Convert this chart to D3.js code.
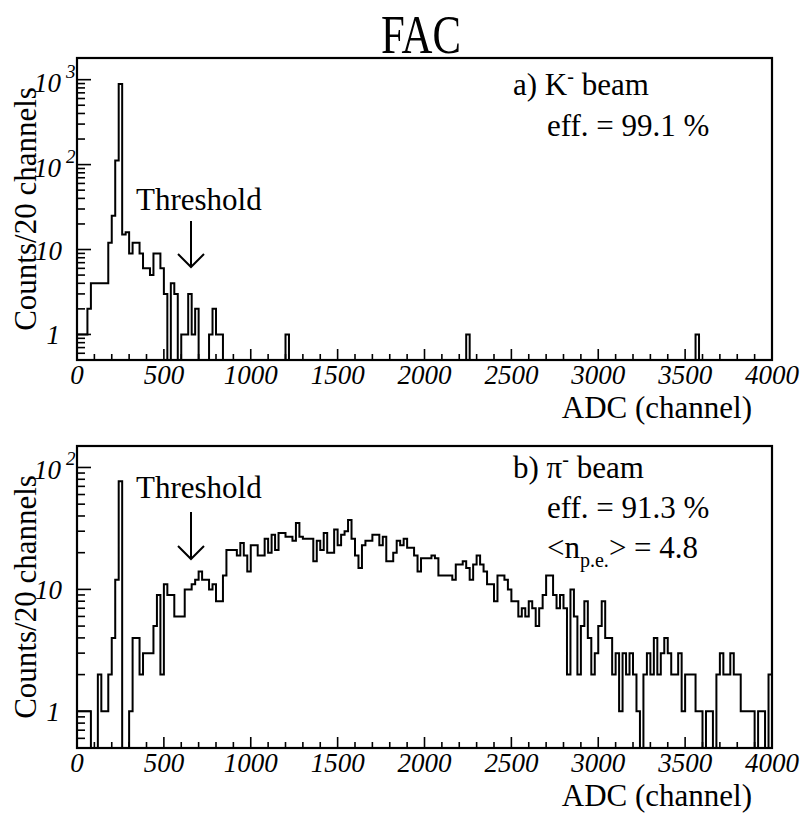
<!DOCTYPE html>
<html>
<head>
<meta charset="utf-8">
<script src="https://cdn.jsdelivr.net/npm/d3@7"></script>
<style>
  html, body { margin: 0; padding: 0; background: #fff; }
  svg { display: block; }
</style>
</head>
<body>
<svg id="chart" width="806" height="813" font-family="'Liberation Serif', Tinos, 'Times New Roman', Times, 'DejaVu Serif', serif"></svg>
<script>
// ADC spectra, 20-channel bins from 0 to 4000
const binWidth = 20;
const adcRange = [0, 4000];

// K- beam: only non-empty bins (lower bin edge, counts)
const kBinLow = [0, 20, 40, 60, 80, 100, 120, 140, 160, 180, 200, 220, 240, 260, 280, 300, 320, 340,
                 360, 380, 400, 420, 440, 460, 480, 500, 540, 560, 600, 620, 640, 660, 680,
                 760, 780, 800, 820, 1200, 2240, 3560];
const kCounts = [1, 1, 1, 2, 4, 4, 4, 4, 4, 12, 25, 112, 890, 15, 16, 9, 12, 12,
                 9, 6, 6, 5, 9, 9, 6, 3, 4, 3, 1, 1, 3, 1, 2,
                 1, 2, 1, 1, 1, 1, 1];

// pi- beam: counts for all 200 bins
const piCounts = [
  1, 1, 1, 1, 0, 0, 2, 1, 1, 2, 4, 12, 77, 0, 0, 1, 4, 4, 2, 3,
  3, 3, 5, 9, 2, 11, 9, 9, 6, 6, 6, 10, 10, 11, 12, 14, 12, 12, 10, 11,
  8, 8, 13, 21, 21, 21, 19, 24, 19, 14, 23, 23, 19, 19, 26, 20, 28, 21, 29, 29,
  27, 27, 25, 35, 27, 26, 26, 26, 17, 25, 21, 29, 20, 20, 31, 23, 28, 30, 37, 26,
  19, 15, 23, 25, 25, 28, 28, 23, 27, 17, 17, 20, 25, 23, 26, 22, 22, 19, 14, 18,
  18, 18, 19, 18, 13, 13, 13, 13, 12, 16, 16, 17, 15, 12, 16, 19, 16, 14, 11, 11,
  8, 13, 13, 12, 10, 8, 8, 6, 7, 6, 8, 7, 5, 7, 9, 13, 13, 9, 7, 9,
  7, 2, 10, 6, 2, 5, 8, 4, 2, 3, 5, 8, 4, 4, 2, 3, 1, 3, 2, 3,
  2, 1, 0, 2, 3, 2, 4, 2, 3, 4, 3, 2, 2, 3, 1, 2, 2, 2, 1, 1,
  0, 1, 1, 0, 2, 3, 2, 2, 3, 2, 2, 1, 1, 1, 1, 0, 1, 1, 0, 2
];

// tick values
const xMajorTicks = [0, 500, 1000, 1500, 2000, 2500, 3000, 3500, 4000];
const xTickLabels = ["0", "500", "1000", "1500", "2000", "2500", "3000", "3500", "4000"];

const nBins = (adcRange[1] - adcRange[0]) / binWidth;
const kFull = new Array(nBins).fill(0);
kBinLow.forEach((lo, i) => { kFull[lo / binWidth] = kCounts[i]; });

const svg = d3.select("#chart");
const left = 77, right = 772;

const x = d3.scaleLinear().domain(adcRange).range([left, right]);

svg.append("text")
  .attr("x", 421).attr("y", 53)
  .attr("text-anchor", "middle")
  .attr("font-size", 54)
  .attr("textLength", 80)
  .attr("lengthAdjust", "spacingAndGlyphs")
  .text("FAC");

const panels = [
  { top: 58, bottom: 360, yDomain: [0.5, 1800], counts: kFull, decades: [0, 1, 2, 3],
    arrowX: 191, thr: { x: 136, y: 210 }, arrowTop: 221, arrowTip: 267 },
  { top: 446, bottom: 748, yDomain: [0.5, 150], counts: piCounts, decades: [0, 1, 2],
    arrowX: 191, thr: { x: 136, y: 498 }, arrowTop: 512, arrowTip: 559 }
];

panels.forEach((p) => {
  const g = svg.append("g");
  const y = d3.scaleLog().domain(p.yDomain).range([p.bottom, p.top]);

  // histogram outline; empty bins drop to the frame bottom
  const pts = [[x(adcRange[0]), p.bottom]];
  p.counts.forEach((c, i) => {
    const yy = c > 0 ? y(c) : p.bottom;
    pts.push([x(i * binWidth), yy]);
    pts.push([x((i + 1) * binWidth), yy]);
  });
  pts.push([x(adcRange[1]), p.bottom]);
  g.append("path")
    .attr("d", d3.line()(pts))
    .attr("fill", "none")
    .attr("stroke", "#000")
    .attr("stroke-width", 2)
    .attr("stroke-linejoin", "miter");

  // frame
  g.append("rect")
    .attr("x", left).attr("y", p.top)
    .attr("width", right - left).attr("height", p.bottom - p.top)
    .attr("fill", "none").attr("stroke", "#000").attr("stroke-width", 2.2);

  // x ticks inside the frame
  const xMinor = d3.range(0, 4001, 100);
  g.selectAll(null).data(xMinor).enter().append("line")
    .attr("x1", d => x(d)).attr("x2", d => x(d))
    .attr("y1", p.bottom)
    .attr("y2", d => p.bottom - (d % 500 === 0 ? 11 : 6))
    .attr("stroke", "#000").attr("stroke-width", 1.6);

  // x tick labels
  g.selectAll(null).data(xMajorTicks).enter().append("text")
    .attr("x", d => x(d)).attr("y", p.bottom + 24)
    .attr("text-anchor", "middle")
    .attr("font-size", 27).attr("font-style", "italic")
    .text((d, i) => xTickLabels[i]);

  g.append("text")
    .attr("x", 752).attr("y", p.bottom + 58)
    .attr("text-anchor", "end")
    .attr("font-size", 31)
    .text("ADC (channel)");

  // y ticks: decades long, 2..9 short
  const yTicks = [];
  for (let e = -1; e <= 3; e++) {
    for (let m = 1; m <= 9; m++) {
      const v = m * Math.pow(10, e);
      if (v >= p.yDomain[0] && v <= p.yDomain[1]) yTicks.push({ v, major: m === 1 });
    }
  }
  g.selectAll(null).data(yTicks).enter().append("line")
    .attr("x1", left).attr("x2", d => left + (d.major ? 14 : 8))
    .attr("y1", d => y(d.v)).attr("y2", d => y(d.v))
    .attr("stroke", "#000").attr("stroke-width", 1.6);

  // y tick labels
  p.decades.forEach(e => {
    const v = Math.pow(10, e);
    const yy = y(v);
    if (e === 0) {
      g.append("text").attr("x", 60).attr("y", yy + 10)
        .attr("text-anchor", "end").attr("font-size", 27).attr("font-style", "italic").text("1");
    } else if (e === 1) {
      g.append("text").attr("x", 62).attr("y", yy + 10)
        .attr("text-anchor", "end").attr("font-size", 27).attr("font-style", "italic").text("10");
    } else {
      g.append("text").attr("x", 61).attr("y", yy + 12)
        .attr("text-anchor", "end").attr("font-size", 27).attr("font-style", "italic").text("10");
      g.append("text").attr("x", 66).attr("y", yy - 2)
        .attr("font-size", 19).attr("font-style", "italic").text(String(e));
    }
  });

  // y axis title
  g.append("text")
    .attr("transform", `translate(36,${(p.top + p.bottom) / 2}) rotate(-90)`)
    .attr("text-anchor", "middle")
    .attr("font-size", 31)
    .text("Counts/20 channels");

  // threshold marker
  g.append("text")
    .attr("x", p.thr.x).attr("y", p.thr.y)
    .attr("font-size", 31)
    .text("Threshold");
  g.append("line")
    .attr("x1", p.arrowX).attr("x2", p.arrowX)
    .attr("y1", p.arrowTop).attr("y2", p.arrowTip)
    .attr("stroke", "#000").attr("stroke-width", 2);
  g.append("path")
    .attr("d", `M${p.arrowX - 13},${p.arrowTip - 13} L${p.arrowX},${p.arrowTip} L${p.arrowX + 13},${p.arrowTip - 13}`)
    .attr("fill", "none").attr("stroke", "#000").attr("stroke-width", 2);
});

// panel annotations
const a1 = svg.append("text").attr("x", 513).attr("y", 95).attr("font-size", 31);
a1.append("tspan").text("a) K");
a1.append("tspan").attr("dy", -12).attr("font-size", 20).text("-");
a1.append("tspan").attr("dy", 12).text(" beam");
svg.append("text").attr("x", 547).attr("y", 136).attr("font-size", 31).text("eff. = 99.1 %");

const b1 = svg.append("text").attr("x", 513).attr("y", 478).attr("font-size", 31);
b1.append("tspan").text("b) π");
b1.append("tspan").attr("dy", -12).attr("font-size", 20).text("-");
b1.append("tspan").attr("dy", 12).text(" beam");
svg.append("text").attr("x", 547).attr("y", 518).attr("font-size", 31).text("eff. = 91.3 %");
const b3 = svg.append("text").attr("x", 547).attr("y", 558).attr("font-size", 31);
b3.append("tspan").text("<n");
b3.append("tspan").attr("dy", 9).attr("font-size", 20).text("p.e.");
b3.append("tspan").attr("dy", -9).text("> = 4.8");
</script>
</body>
</html>
